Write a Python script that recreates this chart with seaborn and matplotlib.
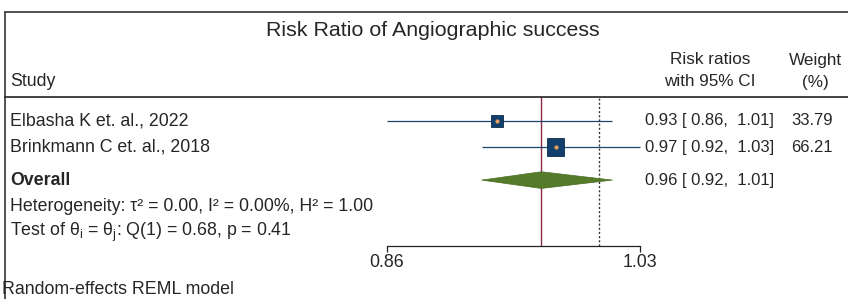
import matplotlib
matplotlib.use("Agg")
import matplotlib.pyplot as plt
import matplotlib.transforms as mtransforms
from matplotlib.lines import Line2D
import pandas as pd
import seaborn as sns

# data
studies = ["Elbasha K et. al., 2022", "Brinkmann C et. al., 2018"]
rr = [0.93, 0.97]
ci_low = [0.86, 0.92]
ci_high = [1.01, 1.03]
weights = [33.79, 66.21]
overall = 0.96
overall_low = 0.92
overall_high = 1.01
xticks = [0.86, 1.03]

df = pd.DataFrame({"study": studies, "rr": rr, "lo": ci_low, "hi": ci_high, "w": weights})
df["row"] = range(len(df))
overall_row = len(df) + 0.27

sns.set_theme(style="white")
plt.rcParams["font.family"] = ["Liberation Sans", "DejaVu Sans"]
plt.rcParams["mathtext.fontset"] = "custom"
plt.rcParams["mathtext.rm"] = "Liberation Sans"

W, H = 848, 299
fig = plt.figure(figsize=(W / 100, H / 100), dpi=100)
ax = fig.add_axes([387 / W, 1 - 246 / H, (640 - 387) / W, (246 - 97) / H])
ax.set_xscale("log")

navy = "#1a476f"
# confidence intervals
ax.hlines(df["row"], df["lo"], df["hi"], color=navy, lw=0.9, clip_on=False, zorder=2)
# weighted squares and centre dots
sns.scatterplot(data=df, x="rr", y="row", size="w", sizes=(df["w"].min() * 2.3, df["w"].max() * 2.3),
                marker="s", color="#123f6b", edgecolor="#0d2c4a", linewidth=0.6, legend=False,
                ax=ax, zorder=3, clip_on=False)
sns.scatterplot(data=df, x="rr", y="row", s=9, color="#e8a060", linewidth=0, legend=False, ax=ax, zorder=4)

# overall diamond
ax.fill([overall_low, overall, overall_high, overall],
        [overall_row, overall_row - 0.32, overall_row, overall_row + 0.32],
        color="#557a2a", edgecolor="#4a6b22", lw=0.5, zorder=3, clip_on=False)

ax.axvline(overall, color="#8b2c43", lw=1.0, zorder=1)
ax.axvline(1.0, color="#333333", lw=1.0, ls=(0, (1.5, 1.5)), zorder=1)

fs = 12.8   # labels
fn = 12.0   # numeric columns

ax.set_ylim(4.8, -0.92)
ax.set_xlim(0.86, 1.03)
ax.set_xticks(xticks)
ax.set_xticklabels([f"{t:.2f}" for t in xticks], fontsize=fs)
ax.xaxis.set_minor_locator(matplotlib.ticker.NullLocator())
ax.set_yticks([])
ax.set_xlabel("")
ax.set_ylabel("")
for s in ["top", "left", "right"]:
    ax.spines[s].set_visible(False)
ax.spines["bottom"].set_color("#222222")
ax.spines["bottom"].set_linewidth(0.9)
ax.tick_params(axis="x", direction="out", length=4, width=0.9, color="#222222", pad=2, bottom=True)
ax.patch.set_alpha(0)

# text columns tied to the rows
tr = mtransforms.blended_transform_factory(fig.transFigure, ax.transData)
for i, r in df.iterrows():
    ax.text(10 / W, r["row"], r["study"], transform=tr, fontsize=fs, va="center", ha="left")
    ax.text(645 / W, r["row"], f"{r['rr']:.2f} [ {r['lo']:.2f},  {r['hi']:.2f}]",
            transform=tr, fontsize=fn, va="center", ha="left")
    ax.text(812 / W, r["row"], f"{r['w']:.2f}", transform=tr, fontsize=fn, va="center", ha="center")
ax.text(10 / W, overall_row, "Overall", transform=tr, fontsize=fs, va="center", ha="left", fontweight="bold")
ax.text(645 / W, overall_row, f"{overall:.2f} [ {overall_low:.2f},  {overall_high:.2f}]",
        transform=tr, fontsize=fn, va="center", ha="left")
ax.text(10 / W, overall_row + 1, "Heterogeneity: τ² = 0.00, I² = 0.00%, H² = 1.00",
        transform=tr, fontsize=fs, va="center", ha="left")
ax.text(10 / W, overall_row + 2, r"Test of θ$_\mathregular{i}$ = θ$_\mathregular{j}$: Q(1) = 0.68, p = 0.41",
        transform=tr, fontsize=fs, va="center", ha="left")

# header
fig.text(433 / W, 1 - 30 / H, "Risk Ratio of Angiographic success", fontsize=15.4, ha="center", va="center")
fig.text(10 / W, 1 - 82 / H, "Study", fontsize=fs, ha="left", va="center")
fig.text(710 / W, 1 - 60 / H, "Risk ratios", fontsize=12.3, ha="center", va="center")
fig.text(710 / W, 1 - 82 / H, "with 95% CI", fontsize=12.3, ha="center", va="center")
fig.text(815 / W, 1 - 60 / H, "Weight", fontsize=12.3, ha="center", va="center")
fig.text(815 / W, 1 - 82 / H, "(%)", fontsize=12.3, ha="center", va="center")
fig.text(2 / W, 1 - 290 / H, "Random-effects REML model", fontsize=fs, ha="left", va="center")

# frame lines
fig.add_artist(Line2D([5 / W, 1], [1 - 12 / H, 1 - 12 / H], color="#333333", lw=1.2))
fig.add_artist(Line2D([5 / W, 5 / W], [0, 1 - 12 / H], color="#333333", lw=1.2))
fig.add_artist(Line2D([5 / W, 1], [1 - 97 / H, 1 - 97 / H], color="#222222", lw=1.2))

fig.savefig("out.png", dpi=100)
